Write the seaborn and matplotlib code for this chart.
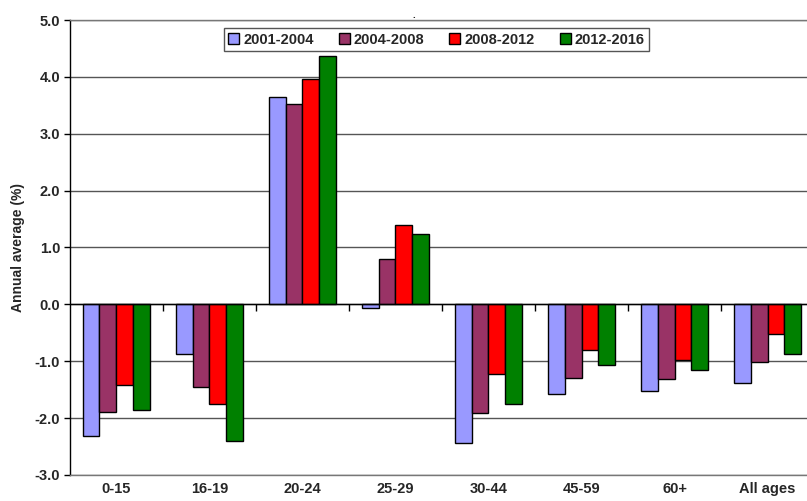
import seaborn as sns
import matplotlib.pyplot as plt
import pandas as pd
import numpy as np

age_groups = ['0-15', '16-19', '20-24', '25-29', '30-44', '45-59', '60+', 'All ages']
periods = ['2001-2004', '2004-2008', '2008-2012', '2012-2016']
v_2001_2004 = [-2.31, -0.88, 3.65, -0.06, -2.43, -1.57, -1.53, -1.38]
v_2004_2008 = [-1.90, -1.45, 3.53, 0.80, -1.91, -1.29, -1.32, -1.02]
v_2008_2012 = [-1.42, -1.76, 3.96, 1.39, -1.23, -0.81, -0.98, -0.52]
v_2012_2016 = [-1.86, -2.40, 4.37, 1.24, -1.75, -1.06, -1.15, -0.87]
colors = ['#9999FF', '#993366', '#FF0000', '#008000']

df = pd.DataFrame({'Age': age_groups * 4,
                   'Period': np.repeat(periods, len(age_groups)),
                   'Value': v_2001_2004 + v_2004_2008 + v_2008_2012 + v_2012_2016})

sns.set_style('white')
plt.rcParams['font.family'] = ['Liberation Sans', 'DejaVu Sans']

fig = plt.figure(figsize=(8.07, 5.01), dpi=100)
ax = fig.add_axes([0.0867, 0.052, 0.922, 0.908])
sns.barplot(data=df, x='Age', y='Value', hue='Period', palette=colors, saturation=1,
            width=0.73, edgecolor='black', linewidth=1, ax=ax, zorder=3)

ax.set_ylim(-3, 5)
ax.set_xlim(-0.5, 7.5)
ax.set_yticks(np.arange(-3, 5.1, 1))
ax.set_yticklabels([f'{t:.1f}' for t in np.arange(-3, 5.1, 1)], fontsize=10.5, fontweight='bold')
ax.set_xticks(range(len(age_groups)))
ax.set_xticklabels(age_groups, fontsize=10.5, fontweight='bold')
ax.tick_params(axis='x', length=0, pad=5)
ax.tick_params(axis='y', left=True, length=4, width=1, color='black', pad=3)
ax.set_xlabel('')
ax.set_ylabel('Annual average (%)', fontsize=10, fontweight='bold', labelpad=7)

ax.grid(axis='y', color='#555555', linewidth=1, zorder=0)
ax.axhline(0, color='black', linewidth=1, zorder=4)
# category tick marks on the zero line
ax.vlines(np.arange(0.5, 7.5, 1), -0.12, 0, color='black', linewidth=1, zorder=4)

for side in ['top', 'bottom']:
    ax.spines[side].set_color('#777777')
    ax.spines[side].set_linewidth(1)
ax.spines['left'].set_color('black')
ax.spines['left'].set_linewidth(1)
ax.spines['right'].set_visible(False)

leg = ax.legend(ncol=4, loc='upper center', bbox_to_anchor=(0.4926, 0.998),
                prop={'weight': 'bold', 'size': 10.5}, handlelength=0.75, handleheight=0.75,
                handletextpad=0.3, columnspacing=1.7, borderpad=0.3, fancybox=False,
                framealpha=1, edgecolor='#555555')
leg.get_frame().set_linewidth(1)

fig.text(414 / 807, 1 - 15 / 501, '.', fontsize=7, fontweight='bold', ha='center', va='center')

plt.savefig('out.png', dpi=100)
